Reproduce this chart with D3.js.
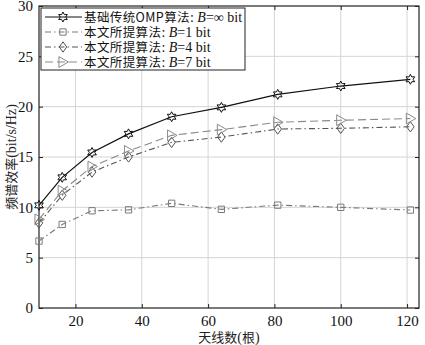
<!DOCTYPE html>
<html>
<head>
<meta charset="utf-8">
<script src="https://cdn.jsdelivr.net/npm/d3@7"></script>
<style>
  body { margin: 0; background: #fff; }
  svg { display: block; }
</style>
</head>
<body>
<svg id="chart" width="425" height="345"></svg>
<script>
// Number of antennas (x) and spectral efficiency values per scheme
const antennas = [9, 16, 25, 36, 49, 64, 81, 100, 121];
const omp   = [10.2, 12.98, 15.45, 17.3, 19.0, 19.93, 21.22, 22.05, 22.72];
const bit1  = [6.65, 8.3, 9.66, 9.75, 10.4, 9.8, 10.22, 10.0, 9.73];
const bit4  = [8.45, 11.2, 13.5, 15.0, 16.45, 16.98, 17.78, 17.85, 18.0];
const bit7  = [8.8, 11.65, 14.05, 15.6, 17.15, 17.72, 18.45, 18.65, 18.82];

const xTicks = [20, 40, 60, 80, 100, 120];
const yTicks = [0, 5, 10, 15, 20, 25, 30];

const seriesNames = ["基础传统OMP算法", "本文所提算法", "本文所提算法", "本文所提算法"];
const seriesBits = ["∞", "1", "4", "7"];

const SERIF = "Liberation Serif";
const CJK = "Noto Sans CJK SC";

const svg = d3.select("#chart");
const pL = 39, pR = 419, pT = 6, pB = 308;

const x = d3.scaleLinear().domain([9, 123.6]).range([pL, pR]);
const y = d3.scaleLinear().domain([0, 30]).range([pB, pT]);

// grid
const grid = svg.append("g");
grid.selectAll(".gx").data(xTicks).enter().append("line")
  .attr("x1", d => x(d)).attr("x2", d => x(d))
  .attr("y1", pT).attr("y2", pB)
  .attr("stroke", "#d4d4d4").attr("stroke-width", 1);
grid.selectAll(".gy").data(yTicks.filter(d => d > 0 && d < 30)).enter().append("line")
  .attr("x1", pL).attr("x2", pR)
  .attr("y1", d => y(d)).attr("y2", d => y(d))
  .attr("stroke", "#d4d4d4").attr("stroke-width", 1);

// axes (ticks inward, mirrored on top and right)
svg.append("g").attr("transform", `translate(0,${pB})`)
  .call(d3.axisBottom(x).tickValues(xTicks).tickSizeInner(-4).tickSizeOuter(0).tickPadding(7));
svg.append("g").attr("transform", `translate(${pL},0)`)
  .call(d3.axisLeft(y).tickValues(yTicks).tickSizeInner(-4).tickSizeOuter(0).tickPadding(6));
svg.append("g").attr("transform", `translate(0,${pT})`)
  .call(d3.axisTop(x).tickValues(xTicks).tickSizeInner(-4).tickSizeOuter(0).tickFormat(""));
svg.append("g").attr("transform", `translate(${pR},0)`)
  .call(d3.axisRight(y).tickValues(yTicks).tickSizeInner(-4).tickSizeOuter(0).tickFormat(""));
svg.selectAll(".domain").remove();
svg.selectAll(".tick line").attr("stroke", "#222");
svg.selectAll(".tick text").attr("font-size", 15).attr("font-family", SERIF).attr("fill", "#111");

// frame
svg.append("rect").attr("x", pL).attr("y", pT)
  .attr("width", pR - pL).attr("height", pB - pT)
  .attr("fill", "none").attr("stroke", "#222").attr("stroke-width", 1.2);

// axis titles
const xt = svg.append("text").attr("x", (pL + pR) / 2).attr("y", 342)
  .attr("text-anchor", "middle").attr("font-size", 14).attr("font-family", SERIF).attr("fill", "#222");
xt.append("tspan").attr("font-family", CJK).attr("font-size", 13).text("天线数");
xt.append("tspan").text("(");
xt.append("tspan").attr("font-family", CJK).attr("font-size", 13).text("根");
xt.append("tspan").text(")");

const yt = svg.append("text").attr("transform", `translate(16,${(pT + pB) / 2}) rotate(-90)`)
  .attr("text-anchor", "middle").attr("font-size", 14).attr("font-family", SERIF).attr("fill", "#222");
yt.append("tspan").attr("font-family", CJK).attr("font-size", 13).text("频谱效率");
yt.append("tspan").text("(bit/s/Hz)");

// markers
const star6 = d3.symbol().type({
  draw(ctx, size) {
    const R = Math.sqrt(size) * 0.75, r = R * 0.55;
    for (let i = 0; i < 12; i++) {
      const a = -Math.PI / 2 + i * Math.PI / 6;
      const rr = i % 2 === 0 ? R : r;
      const px = rr * Math.cos(a), py = rr * Math.sin(a);
      i === 0 ? ctx.moveTo(px, py) : ctx.lineTo(px, py);
    }
    ctx.closePath();
  }
}).size(44);
const square = d3.symbol().type(d3.symbolSquare).size(40);
const diamond = d3.symbol().type({
  draw(ctx, size) {
    const h = Math.sqrt(size) * 0.8, w = h * 0.72;
    ctx.moveTo(0, -h); ctx.lineTo(w, 0); ctx.lineTo(0, h); ctx.lineTo(-w, 0); ctx.closePath();
  }
}).size(42);
const triRight = d3.symbol().type({
  draw(ctx, size) {
    const s = Math.sqrt(size) * 0.8;
    ctx.moveTo(s, 0); ctx.lineTo(-s * 0.75, -s); ctx.lineTo(-s * 0.75, s); ctx.closePath();
  }
}).size(46);

const series = [
  { vals: omp,  color: "#111", dash: null,          sym: star6,   width: 1.2 },
  { vals: bit1, color: "#7a7a7a", dash: "6,3,1.5,3", sym: square,  width: 1.1 },
  { vals: bit4, color: "#555", dash: "6,3,1.5,3",   sym: diamond, width: 1.1 },
  { vals: bit7, color: "#8a8a8a", dash: "8,4",      sym: triRight, width: 1.1 }
];

const line = d3.line().x(d => x(d[0])).y(d => y(d[1]));

series.forEach(s => {
  const pts = antennas.map((a, i) => [a, s.vals[i]]);
  const g = svg.append("g");
  g.append("path").datum(pts).attr("d", line)
    .attr("fill", "none").attr("stroke", s.color).attr("stroke-width", s.width)
    .attr("stroke-dasharray", s.dash);
  g.selectAll("path.m").data(pts).enter().append("path").attr("class", "m")
    .attr("transform", d => `translate(${x(d[0])},${y(d[1])})`)
    .attr("d", s.sym).attr("fill", "none").attr("stroke", s.color).attr("stroke-width", 1);
});

// legend
const lg = svg.append("g");
lg.append("rect").attr("x", 41).attr("y", 8).attr("width", 204).attr("height", 62)
  .attr("fill", "#fff").attr("stroke", "#222").attr("stroke-width", 1);
series.forEach((s, i) => {
  const yy = 17 + i * 15;
  lg.append("line").attr("x1", 45).attr("x2", 82).attr("y1", yy).attr("y2", yy)
    .attr("stroke", s.color).attr("stroke-width", s.width).attr("stroke-dasharray", s.dash);
  lg.append("path").attr("transform", `translate(63,${yy})`).attr("d", s.sym)
    .attr("fill", "none").attr("stroke", s.color).attr("stroke-width", 1);
  const t = lg.append("text").attr("x", 84).attr("y", yy + 5)
    .attr("font-size", 14).attr("font-family", SERIF).attr("fill", "#111");
  t.append("tspan").attr("font-family", CJK).attr("font-size", 12.5).attr("letter-spacing", 0.4).text(seriesNames[i]);
  t.append("tspan").text(": ");
  t.append("tspan").attr("font-style", "italic").text("B");
  t.append("tspan").text("=" + seriesBits[i] + " bit");
});
</script>
</body>
</html>
